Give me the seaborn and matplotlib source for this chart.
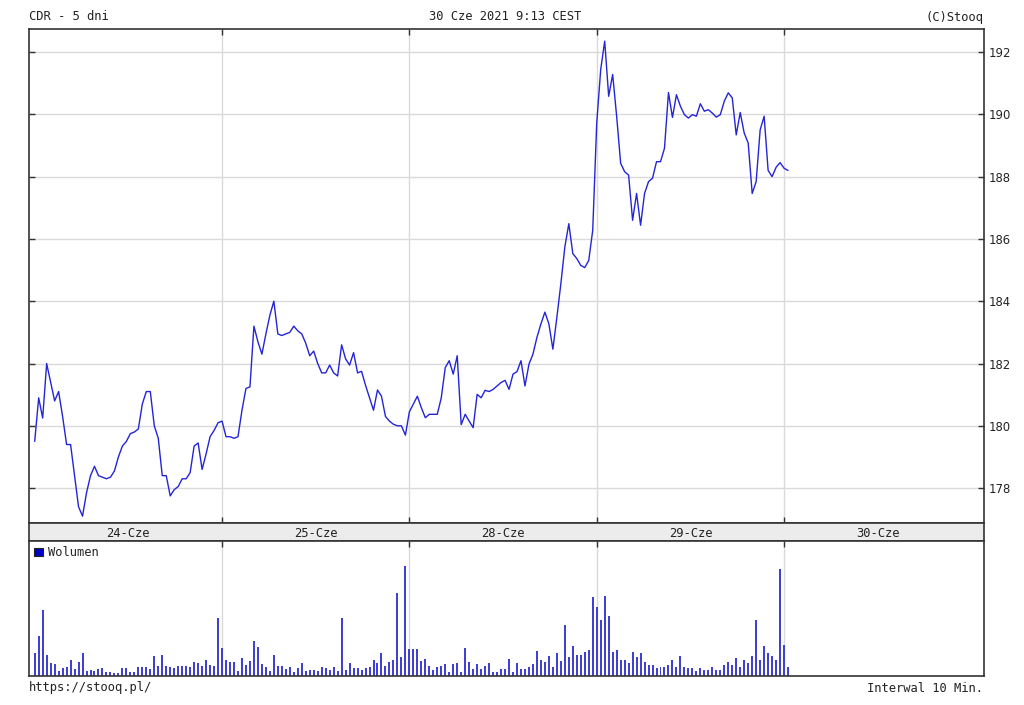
import numpy as np
import pandas as pd
import matplotlib
matplotlib.use("Agg")
import matplotlib.pyplot as plt
import seaborn as sns
from matplotlib.patches import Patch

# sessions shown on the chart, 10-minute bars
days = ['24-Cze', '25-Cze', '28-Cze', '29-Cze', '30-Cze']
bars_per_day = 47

price_24 = [179.5, 180.9, 180.25, 182.0, 181.4, 180.8, 181.1, 180.3, 179.4, 179.4,
            178.4, 177.4, 177.1, 177.85, 178.4, 178.7, 178.4, 178.35, 178.3, 178.35,
            178.55, 179.0, 179.35, 179.5, 179.75, 179.8, 179.9, 180.7, 181.1, 181.1,
            180.0, 179.6, 178.4, 178.4, 177.75,
            177.95, 178.05, 178.3, 178.3, 178.5, 179.35, 179.45, 178.6, 179.1, 179.65,
            179.85, 180.1]
price_25 = [180.15, 179.65, 179.65, 179.6, 179.65, 180.5, 181.2, 181.25, 183.2, 182.7,
            182.3, 182.95,
            183.55, 184.0, 182.95, 182.9, 182.95, 183.0, 183.2, 183.05, 182.95, 182.65,
            182.25, 182.4, 182.0, 181.7, 181.7, 181.95, 181.7, 181.6, 182.6, 182.15,
            181.95, 182.35, 181.7, 181.75,
            181.3, 180.9, 180.5, 181.15, 180.95, 180.3, 180.15, 180.05, 180.0, 180.0,
            179.7]
price_28 = [180.45, 180.7, 180.95, 180.58, 180.26, 180.37, 180.37, 180.37, 180.9, 181.87,
            182.09,
            181.66, 182.25, 180.04, 180.37, 180.15, 179.94, 181.01, 180.9, 181.14, 181.1,
            181.17, 181.28, 181.39, 181.46, 181.17, 181.66, 181.74, 182.09, 181.28, 181.98,
            182.3, 182.84, 183.27, 183.65, 183.27,
            182.46, 183.48, 184.56, 185.74, 186.49, 185.53, 185.37, 185.15, 185.08, 185.31,
            186.28]
price_29 = [189.72, 191.44, 192.35, 190.58, 191.28, 189.94, 188.43, 188.16, 188.05, 186.6,
            187.46, 186.44, 187.46,
            187.84, 187.95, 188.48, 188.48, 188.91, 190.7, 189.9, 190.63, 190.26, 189.99,
            189.88, 189.99, 189.94, 190.34, 190.1, 190.15, 190.04, 189.91, 189.99, 190.42,
            190.69, 190.53, 189.34, 190.06, 189.4,
            189.08, 187.46, 187.84, 189.5, 189.94, 188.2, 188.0, 188.3, 188.45]
price_30 = [188.27, 188.2]

vol_24 = [23, 40, 66, 21, 13, 12, 5, 8, 9, 16, 7, 14, 23, 5, 6, 5, 7, 8, 4, 4,
          3, 3, 8, 8, 4, 4, 9, 9, 9, 7, 20, 10, 21, 10, 9, 8, 10, 10, 10, 9,
          14, 13, 10, 16, 11, 10, 58]
vol_25 = [28, 16, 14, 14, 5, 18, 11, 15, 35, 29, 12, 9, 5, 21, 10, 10, 7,
          9, 4, 8, 13, 5, 6, 6, 5, 9, 8, 6, 9, 5, 58, 6, 13, 8, 8, 6, 8, 9, 16,
          13, 23, 10, 14, 16, 83, 19, 110]
vol_28 = [27, 27, 27, 15, 17, 10, 6, 9, 10, 12, 4, 12, 13, 4, 28, 14, 7, 12, 7, 10,
          13, 4, 4, 7, 7, 17, 4, 13, 7, 7, 9, 12, 25,
          16, 14, 20, 9, 23, 15, 51, 19, 30, 21, 21, 24, 26, 79]
vol_29 = [69, 56, 80, 60, 24, 26, 16, 16, 13, 24, 19, 23, 14, 11, 11, 8, 9, 9, 11, 16,
          9, 20, 9, 8, 8, 5, 8, 6, 6, 9, 6, 6, 11, 14, 11, 18, 9, 16, 13, 20,
          56, 16, 30, 23, 20, 16, 107]
vol_30 = [31, 9]

yticks = [178, 180, 182, 184, 186, 188, 190, 192]

sns.set_style('white')
plt.rcParams['font.family'] = ['DejaVu Sans']
mono = 'DejaVu Sans Mono'

prices = price_24 + price_25 + price_28 + price_29 + price_30
vols = vol_24 + vol_25 + vol_28 + vol_29 + vol_30
df = pd.DataFrame({'slot': np.arange(len(prices)), 'price': prices, 'vol': vols})

boundaries = [bars_per_day * k for k in range(1, len(days))]
xlim = (-1.43, 238.16)
line_col = '#2424d8'
spine_col = '#333333'
grid_col = '#dadada'

fig = plt.figure(figsize=(10.24, 7.05), dpi=100)
fig.patch.set_facecolor('white')
W, H = 1024, 705
ax = fig.add_axes([29 / W, 1 - 523 / H, 955 / W, 494 / H])
band = fig.add_axes([29 / W, 1 - 541 / H, 955 / W, 18 / H])
vax = fig.add_axes([29 / W, 1 - 676 / H, 955 / W, 135 / H])

# price line
sns.lineplot(data=df, x='slot', y='price', ax=ax, color=line_col, lw=1.0)
ax.set_xlim(xlim)
ax.set_ylim(176.88, 192.74)
ax.set_xticks(boundaries)
ax.set_yticks(yticks)
ax.set_xlabel('')
ax.set_ylabel('')
ax.grid(True, color=grid_col, lw=1)
ax.set_axisbelow(True)
ax.tick_params(axis='y', left=True, right=True, labelleft=False, labelright=True,
               direction='in', length=4, width=1, color=spine_col, labelsize=8.4,
               pad=3.5, labelcolor='#222222')
ax.tick_params(axis='x', top=True, bottom=True, labelbottom=False,
               direction='in', length=4, width=1, color=spine_col)
for s in ax.spines.values():
    s.set_color(spine_col)
    s.set_linewidth(1.2)

# date band
band.set_facecolor('#ececec')
band.set_xlim(xlim)
band.set_ylim(0, 1)
band.set_xticks([])
band.set_yticks([])
for s in band.spines.values():
    s.set_color(spine_col)
    s.set_linewidth(1.2)
for k, d in enumerate(days):
    lo = max(bars_per_day * k, xlim[0])
    hi = bars_per_day * (k + 1)
    band.text((lo + hi) / 2, 0.42, d, ha='center', va='center', family=mono,
              fontsize=8.7, color='#222222')

# volume
sns.barplot(data=df, x='slot', y='vol', ax=vax, native_scale=True, color='#4040d4',
            saturation=1, width=0.5, errorbar=None, linewidth=0)
vax.set_xlim(xlim)
vax.set_ylim(0, 135)
vax.set_xticks(boundaries)
vax.set_yticks([])
vax.set_xlabel('')
vax.set_ylabel('')
vax.grid(True, axis='x', color=grid_col, lw=1)
vax.set_axisbelow(True)
vax.tick_params(axis='x', top=True, bottom=False, labelbottom=False,
                direction='in', length=4, width=1, color=spine_col)
for s in vax.spines.values():
    s.set_color(spine_col)
    s.set_linewidth(1.2)
leg = vax.legend(handles=[Patch(facecolor='#0000c8', edgecolor='#222222', lw=0.8)],
                 labels=['Wolumen'], loc='upper left', frameon=False,
                 prop={'family': mono, 'size': 8.7}, handlelength=0.7,
                 handleheight=0.7, handletextpad=0.4, borderaxespad=0.25,
                 borderpad=0.2)

# header and footer texts
fig.text(29 / W, 1 - 17 / H, 'CDR - 5 dni', family=mono, fontsize=8.7,
         va='center', ha='left', color='#222222')
fig.text(505 / W, 1 - 17 / H, '30 Cze 2021 9:13 CEST', family=mono, fontsize=8.7,
         va='center', ha='center', color='#222222')
fig.text(983 / W, 1 - 17 / H, '(C)Stooq', family=mono, fontsize=8.7,
         va='center', ha='right', color='#222222')
fig.text(29 / W, 1 - 688 / H, 'https://stooq.pl/', family=mono, fontsize=8.7,
         va='center', ha='left', color='#222222')
fig.text(983 / W, 1 - 688 / H, 'Interwal 10 Min.', family=mono, fontsize=8.7,
         va='center', ha='right', color='#222222')

fig.savefig('out.png', dpi=100, facecolor='white')
